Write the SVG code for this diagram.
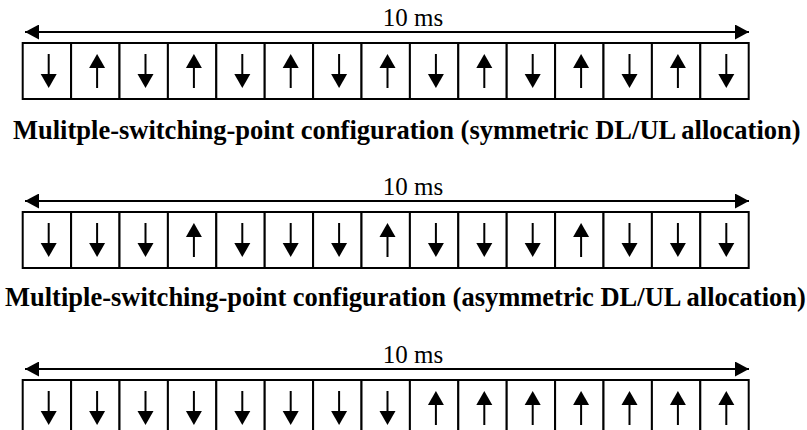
<svg xmlns="http://www.w3.org/2000/svg" width="807" height="430" viewBox="0 0 807 430">
<defs>
<marker id="ah" viewBox="0 0 14 15" refX="14" refY="7.5" markerWidth="14" markerHeight="15" markerUnits="userSpaceOnUse" orient="auto-start-reverse">
<path d="M0,0 L14,7.5 L0,15 Z" fill="#000"/>
</marker>
<g id="dn"><line x1="26" y1="11" x2="26" y2="32" stroke="#000" stroke-width="2"/><path d="M18,31 L34,31 L26,45 Z" fill="#000" stroke="none"/></g>
<g id="up"><line x1="26" y1="24" x2="26" y2="45" stroke="#000" stroke-width="2"/><path d="M26,11 L34,25 L18,25 Z" fill="#000" stroke="none"/></g>
<rect id="cell" width="48.4" height="56" fill="#fff" stroke="#000" stroke-width="2"/>
</defs>

<text style="font-family:'Times New Roman','Liberation Serif',serif;font-size:25px" x="413" y="26" text-anchor="middle">10 ms</text>
<text style="font-family:'Times New Roman','Liberation Serif',serif;font-size:25px" x="413" y="195" text-anchor="middle">10 ms</text>
<text style="font-family:'Times New Roman','Liberation Serif',serif;font-size:25px" x="413" y="363" text-anchor="middle">10 ms</text>
<text style="font-family:'Times New Roman','Liberation Serif',serif;font-size:26.5px;font-weight:bold" x="13" y="139">Mulitple-switching-point configuration (symmetric DL/UL allocation)</text>
<text style="font-family:'Times New Roman','Liberation Serif',serif;font-size:26.5px;font-weight:bold" x="5" y="306">Multiple-switching-point configuration (asymmetric DL/UL allocation)</text>

<g id="connectors" stroke="#000" stroke-width="2" fill="none">
<line x1="25" y1="32" x2="749" y2="32" marker-start="url(#ah)" marker-end="url(#ah)"/>
<line x1="25" y1="201" x2="749" y2="201" marker-start="url(#ah)" marker-end="url(#ah)"/>
<line x1="25" y1="369" x2="749" y2="369" marker-start="url(#ah)" marker-end="url(#ah)"/>
</g>

<g id="r1c1" transform="translate(22.7,43)"><use href="#cell"/><use href="#dn"/></g>
<g id="r1c2" transform="translate(71.1,43)"><use href="#cell"/><use href="#up"/></g>
<g id="r1c3" transform="translate(119.5,43)"><use href="#cell"/><use href="#dn"/></g>
<g id="r1c4" transform="translate(167.9,43)"><use href="#cell"/><use href="#up"/></g>
<g id="r1c5" transform="translate(216.3,43)"><use href="#cell"/><use href="#dn"/></g>
<g id="r1c6" transform="translate(264.7,43)"><use href="#cell"/><use href="#up"/></g>
<g id="r1c7" transform="translate(313.1,43)"><use href="#cell"/><use href="#dn"/></g>
<g id="r1c8" transform="translate(361.5,43)"><use href="#cell"/><use href="#up"/></g>
<g id="r1c9" transform="translate(409.9,43)"><use href="#cell"/><use href="#dn"/></g>
<g id="r1c10" transform="translate(458.3,43)"><use href="#cell"/><use href="#up"/></g>
<g id="r1c11" transform="translate(506.7,43)"><use href="#cell"/><use href="#dn"/></g>
<g id="r1c12" transform="translate(555.1,43)"><use href="#cell"/><use href="#up"/></g>
<g id="r1c13" transform="translate(603.5,43)"><use href="#cell"/><use href="#dn"/></g>
<g id="r1c14" transform="translate(651.9,43)"><use href="#cell"/><use href="#up"/></g>
<g id="r1c15" transform="translate(700.3,43)"><use href="#cell"/><use href="#dn"/></g>

<g id="r2c1" transform="translate(22.7,212)"><use href="#cell"/><use href="#dn"/></g>
<g id="r2c2" transform="translate(71.1,212)"><use href="#cell"/><use href="#dn"/></g>
<g id="r2c3" transform="translate(119.5,212)"><use href="#cell"/><use href="#dn"/></g>
<g id="r2c4" transform="translate(167.9,212)"><use href="#cell"/><use href="#up"/></g>
<g id="r2c5" transform="translate(216.3,212)"><use href="#cell"/><use href="#dn"/></g>
<g id="r2c6" transform="translate(264.7,212)"><use href="#cell"/><use href="#dn"/></g>
<g id="r2c7" transform="translate(313.1,212)"><use href="#cell"/><use href="#dn"/></g>
<g id="r2c8" transform="translate(361.5,212)"><use href="#cell"/><use href="#up"/></g>
<g id="r2c9" transform="translate(409.9,212)"><use href="#cell"/><use href="#dn"/></g>
<g id="r2c10" transform="translate(458.3,212)"><use href="#cell"/><use href="#dn"/></g>
<g id="r2c11" transform="translate(506.7,212)"><use href="#cell"/><use href="#dn"/></g>
<g id="r2c12" transform="translate(555.1,212)"><use href="#cell"/><use href="#up"/></g>
<g id="r2c13" transform="translate(603.5,212)"><use href="#cell"/><use href="#dn"/></g>
<g id="r2c14" transform="translate(651.9,212)"><use href="#cell"/><use href="#dn"/></g>
<g id="r2c15" transform="translate(700.3,212)"><use href="#cell"/><use href="#dn"/></g>

<g id="r3c1" transform="translate(22.7,380)"><use href="#cell"/><use href="#dn"/></g>
<g id="r3c2" transform="translate(71.1,380)"><use href="#cell"/><use href="#dn"/></g>
<g id="r3c3" transform="translate(119.5,380)"><use href="#cell"/><use href="#dn"/></g>
<g id="r3c4" transform="translate(167.9,380)"><use href="#cell"/><use href="#dn"/></g>
<g id="r3c5" transform="translate(216.3,380)"><use href="#cell"/><use href="#dn"/></g>
<g id="r3c6" transform="translate(264.7,380)"><use href="#cell"/><use href="#dn"/></g>
<g id="r3c7" transform="translate(313.1,380)"><use href="#cell"/><use href="#dn"/></g>
<g id="r3c8" transform="translate(361.5,380)"><use href="#cell"/><use href="#dn"/></g>
<g id="r3c9" transform="translate(409.9,380)"><use href="#cell"/><use href="#up"/></g>
<g id="r3c10" transform="translate(458.3,380)"><use href="#cell"/><use href="#up"/></g>
<g id="r3c11" transform="translate(506.7,380)"><use href="#cell"/><use href="#up"/></g>
<g id="r3c12" transform="translate(555.1,380)"><use href="#cell"/><use href="#up"/></g>
<g id="r3c13" transform="translate(603.5,380)"><use href="#cell"/><use href="#up"/></g>
<g id="r3c14" transform="translate(651.9,380)"><use href="#cell"/><use href="#up"/></g>
<g id="r3c15" transform="translate(700.3,380)"><use href="#cell"/><use href="#up"/></g>
</svg>
